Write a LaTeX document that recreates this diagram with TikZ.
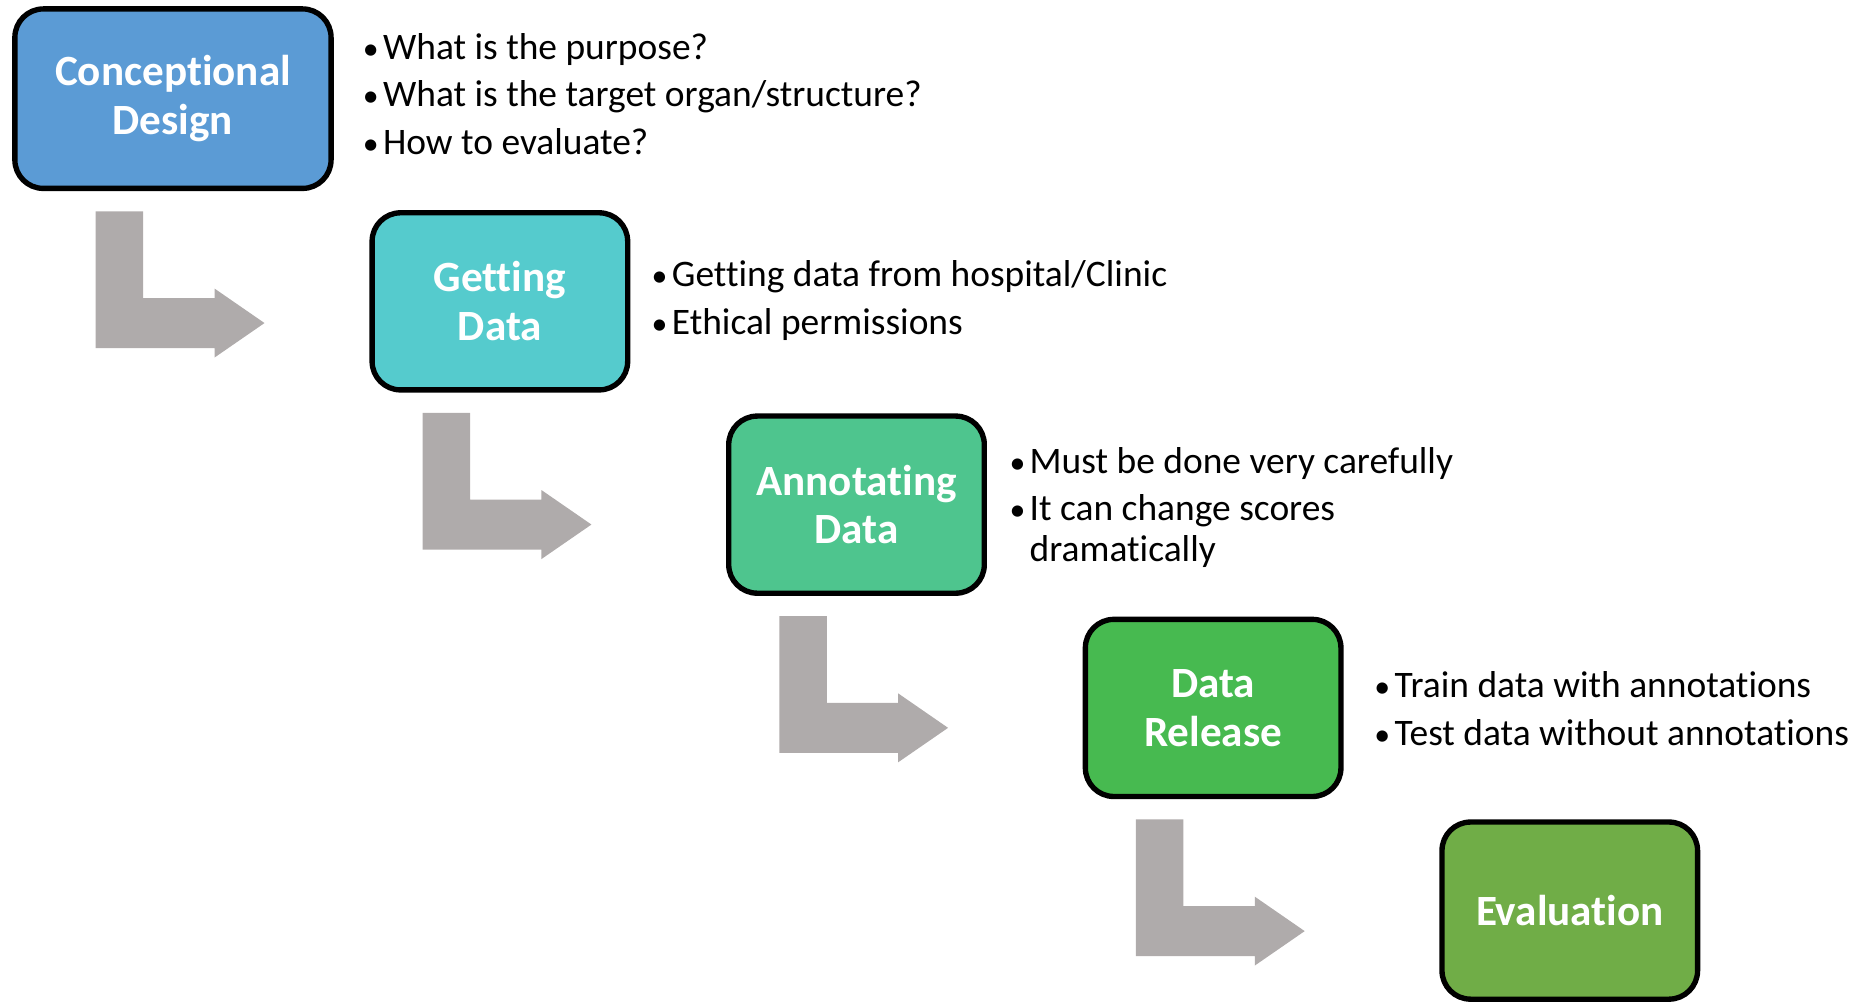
\documentclass[tikz,border=0pt]{standalone}
\usepackage{fontspec}
\setmainfont[Ligatures=NoCommon]{Carlito}
\usetikzlibrary{calc}
\definecolor{cBlue}{HTML}{5B9BD5}
\definecolor{cTeal}{HTML}{55CBCD}
\definecolor{cMint}{HTML}{4EC58E}
\definecolor{cGreen}{HTML}{47BA50}
\definecolor{cOlive}{HTML}{70AD47}
\definecolor{cGray}{HTML}{AFABAB}
\tikzset{
  stepbox/.style={draw=black, line width=4.5pt, rounded corners=24pt, minimum width=215pt, minimum height=149pt,
    align=center, text=white, font=\fontsize{36.3}{41}\selectfont\bfseries, inner sep=0pt},
  bul/.style={anchor=base west, inner sep=0pt, font=\fontsize{31.5}{34}\selectfont, text=black},
  bendarrow/.style={fill=cGray, draw=none}
}
\newcommand{\bl}[1]{\hbox to 17pt{\scalebox{0.85}{\textbullet}\hss}#1}
\newcommand{\nb}[1]{\hbox to 17pt{\hss}#1}
\newcommand{\bendarr}[1]{%
  \fill[bendarrow] ($(#1.south)+(-65,17)$) -- ($(#1.south)+(-25,17)$) -- ($(#1.south)+(-25,90)$)
   -- ($(#1.south)+(35,90)$) -- ($(#1.south)+(35,82)$) -- ($(#1.south)+(77,111)$)
   -- ($(#1.south)+(35,140)$) -- ($(#1.south)+(35,132)$) -- ($(#1.south)+(-65,132)$) -- cycle;}
\begin{document}
\begin{tikzpicture}[x=1pt,y=-1pt]
\useasboundingbox (0,0) rectangle (1568,845);
\node[stepbox, fill=cBlue, minimum width=266pt, minimum height=151pt] (b1) at (145.5,83) {Conceptional\\Design};
\node[stepbox, fill=cTeal] (b2) at (420.5,253.5) {Getting\\Data};
\node[stepbox, fill=cMint] (b3) at (720.5,424.5) {Annotating\\Data};
\node[stepbox, fill=cGreen] (b4) at (1020.5,595.5) {Data\\Release};
\node[stepbox, fill=cOlive] (b5) at (1320.5,766) {Evaluation};
\bendarr{b1}
\bendarr{b2}
\bendarr{b3}
\bendarr{b4}
\node[bul] (t11) at (305,50) {\bl{What is the purpose?}};
\node[bul] (t12) at (305,90) {\bl{What is the target organ/structure?}};
\node[bul] (t13) at (305,130) {\bl{How to evaluate?}};
\node[bul] (t21) at (548,241) {\bl{Getting data from hospital/Clinic}};
\node[bul] (t22) at (548,281) {\bl{Ethical permissions}};
\node[bul] (t31) at (849,398) {\bl{Must be done very carefully}};
\node[bul] (t32) at (849,438) {\bl{It can change scores}};
\node[bul] (t33) at (849,472) {\nb{dramatically}};
\node[bul] (t41) at (1156,587) {\bl{Train data with annotations}};
\node[bul] (t42) at (1156,627) {\bl{Test data without annotations}};
\end{tikzpicture}
\end{document}
